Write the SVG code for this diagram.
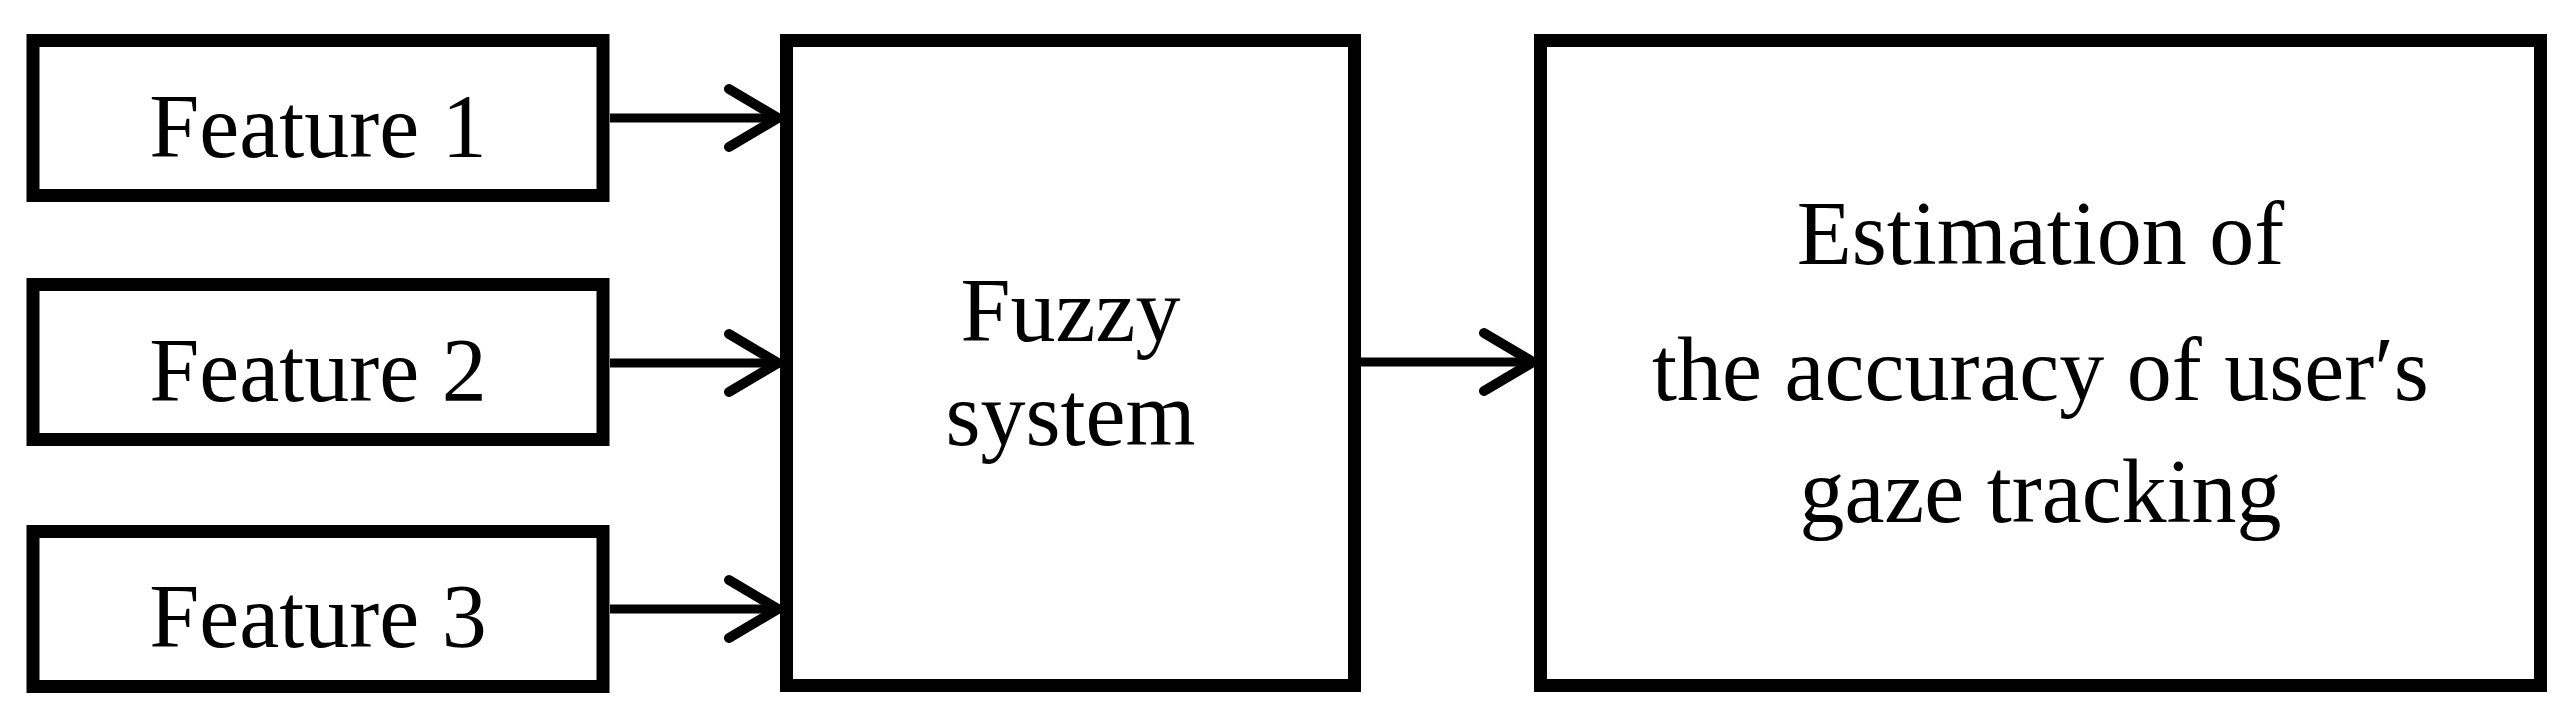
<svg xmlns="http://www.w3.org/2000/svg" width="2566" height="717" viewBox="0 0 2566 717">
<style>
.box{fill:#fff;stroke:#000;stroke-width:13}
.lbl{font-family:"Liberation Serif","Times New Roman",serif;font-size:90px;fill:#000;text-anchor:middle}
.conn{fill:none;stroke:#000;stroke-width:9}
</style>
<defs>
<marker id="arr" markerUnits="userSpaceOnUse" markerWidth="80" markerHeight="80" refX="52" refY="32" orient="auto" overflow="visible">
<path d="M3,3 L52,32 L3,61" fill="none" stroke="#000" stroke-width="10" stroke-linecap="round" stroke-linejoin="miter"/>
</marker>
</defs>
<rect width="2566" height="717" fill="#fff"/>
<g id="connectors">
<path class="conn" d="M610,118 H778" marker-end="url(#arr)"/>
<path class="conn" d="M610,363 H778" marker-end="url(#arr)"/>
<path class="conn" d="M610,609 H778" marker-end="url(#arr)"/>
<path class="conn" d="M1361,362 H1533" marker-end="url(#arr)"/>
</g>
<g id="feature1">
<rect class="box" x="33" y="40.5" width="570" height="155"/>
<text class="lbl" x="318" y="157">Feature 1</text>
</g>
<g id="feature2">
<rect class="box" x="33" y="284.5" width="570" height="155"/>
<text class="lbl" x="318" y="401">Feature 2</text>
</g>
<g id="feature3">
<rect class="box" x="33" y="531.5" width="570" height="155"/>
<text class="lbl" x="318" y="647">Feature 3</text>
</g>
<g id="fuzzy">
<rect class="box" x="786.5" y="40.5" width="568" height="645"/>
<text class="lbl" x="1070.5" y="341">Fuzzy</text>
<text class="lbl" x="1070.5" y="445">system</text>
</g>
<g id="estimation">
<rect class="box" x="1540.5" y="40.5" width="1000" height="645"/>
<text class="lbl" x="2040.5" y="264">Estimation of</text>
<text class="lbl" x="2040.5" y="400">the accuracy of user′s</text>
<text class="lbl" x="2040.5" y="522">gaze tracking</text>
</g>
</svg>
